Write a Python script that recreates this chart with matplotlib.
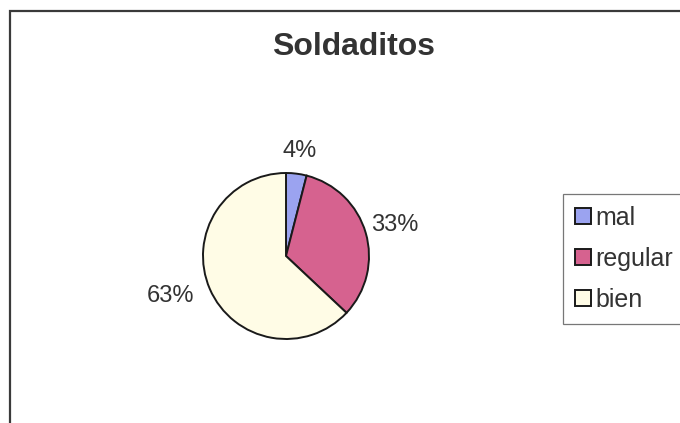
import matplotlib.pyplot as plt
from matplotlib.patches import Rectangle

# Soldaditos results
categorias = ['mal', 'regular', 'bien']
porcentajes = [4, 33, 63]
colores = ['#9ba3f0', '#d6628f', '#fffce6']

# label distance (in radii) and alignment for each percentage
dist_etiqueta = [1.28, 1.36, 1.2]
alin_etiqueta = ['center', 'center', 'right']

plt.rcParams['font.family'] = ['Liberation Sans', 'DejaVu Sans']
gris = '#333333'
cx, cy, r = 286, 167, 83

fig = plt.figure(figsize=(6.8, 4.23), dpi=100)
fig.patch.set_facecolor('white')
ax = fig.add_axes([0, 0, 1, 1])

wedges, textos, pcts = ax.pie(porcentajes, colors=colores, startangle=90,
                              counterclock=False, center=(cx, cy), radius=r,
                              autopct='%1.0f%%', pctdistance=1.0,
                              wedgeprops=dict(edgecolor='#1a1a1a', linewidth=1.4),
                              textprops=dict(fontsize=17, color=gris))

# move percentage labels outside the pie
for t, d, ha in zip(pcts, dist_etiqueta, alin_etiqueta):
    x, y = t.get_position()
    t.set_position((cx + (x - cx) * d, cy + (y - cy) * d))
    t.set_ha(ha)

ax.set_aspect('auto')
ax.set_xlim(0, 680)
ax.set_ylim(0, 423)
ax.axis('off')

# chart area border (runs off the right and bottom edges)
ax.add_patch(Rectangle((9.5, -60), 800, 423 - 10.5 + 60, fill=False,
                       edgecolor='#3a3a3a', linewidth=1.6))

ax.text(354, 423 - 47, 'Soldaditos', fontsize=23, fontweight='bold',
        color=gris, ha='center', va='center')

leg = ax.legend(wedges, categorias, loc='upper left',
                bbox_to_anchor=(563 / 680, 1 - 194 / 423, 140 / 680, 0),
                bbox_transform=fig.transFigure, mode='expand', fontsize=18,
                frameon=True, fancybox=False, borderpad=0.48,
                handlelength=0.62, handleheight=0.62, handletextpad=0.2,
                labelspacing=0.68, borderaxespad=0)
leg.get_frame().set_edgecolor('#555555')
leg.get_frame().set_linewidth(0.9)
for t in leg.get_texts():
    t.set_color(gris)

fig.savefig('out.png', dpi=100)
